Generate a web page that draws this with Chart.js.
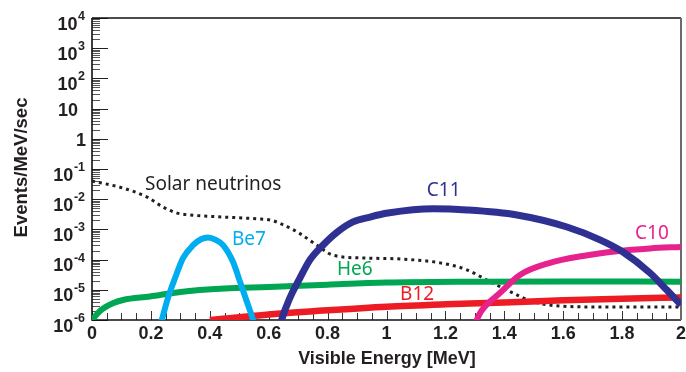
<!DOCTYPE html>
<html>
<head>
<meta charset="utf-8">
<script src="https://cdn.jsdelivr.net/npm/chart.js@4/dist/chart.umd.min.js"></script>
<style>
  html, body { margin: 0; padding: 0; background: #ffffff; }
  #c { display: block; }
</style>
</head>
<body>
<canvas id="c" width="686" height="372"></canvas>
<script>
// Visible energy (MeV) and event rates (events/MeV/sec) for each spectrum
const solarEnergy = [0, 0.105, 0.187, 0.241, 0.289, 0.333, 0.445, 0.56, 0.61, 0.65, 0.70, 0.764, 0.818, 0.934, 1.046, 1.182, 1.273, 1.341, 1.43, 1.497, 1.589, 1.725, 2.0];
const solarRate   = [0.040, 0.0234, 0.0117, 0.0055, 0.00347, 0.0030, 0.00257, 0.00224, 0.0020, 0.00141, 7.9e-4, 3.0e-4, 1.4e-4, 1.12e-4, 1.05e-4, 7.8e-5, 4.6e-5, 2.1e-5, 7.8e-6, 4.0e-6, 2.9e-6, 2.7e-6, 2.7e-6];

const be7Energy = [0.225, 0.237, 0.258, 0.282, 0.309, 0.343, 0.37, 0.394, 0.42, 0.445, 0.479, 0.503, 0.526, 0.547, 0.556];
const be7Rate   = [4e-7, 1e-6, 5.4e-6, 2.45e-5, 1.12e-4, 3.0e-4, 4.7e-4, 5.4e-4, 4.5e-4, 3.0e-4, 8.3e-5, 1.8e-5, 4.0e-6, 1e-6, 4.5e-7];

const c11Energy = [0.635, 0.644, 0.672, 0.706, 0.740, 0.784, 0.832, 0.886, 0.944, 1.005, 1.158, 1.273, 1.443, 1.613, 1.725, 1.803, 1.895, 1.952, 2.0];
const c11Rate   = [4e-7, 1e-6, 5.4e-6, 2.45e-5, 9.8e-5, 3.0e-4, 8.1e-4, 1.78e-3, 2.57e-3, 3.47e-3, 4.8e-3, 4.4e-3, 3.0e-3, 1.2e-3, 4.5e-4, 1.78e-4, 3.6e-5, 9.8e-6, 3.2e-6];

const c10Energy = [1.300, 1.307, 1.324, 1.385, 1.453, 1.555, 1.667, 1.783, 1.895, 2.0];
const c10Rate   = [5e-7, 1e-6, 2.1e-6, 7.8e-6, 3.1e-5, 7.8e-5, 1.32e-4, 1.9e-4, 2.35e-4, 2.63e-4];

const he6Energy = [0, 0.027, 0.071, 0.105, 0.197, 0.3, 0.45, 0.6, 0.8, 1.0, 1.3, 1.6, 2.0];
const he6Rate   = [1e-6, 2.0e-6, 3.6e-6, 4.6e-6, 6.0e-6, 8.5e-6, 1.1e-5, 1.23e-5, 1.48e-5, 1.74e-5, 1.86e-5, 1.9e-5, 1.86e-5];

const b12Energy = [0.4, 0.6, 0.8, 1.0, 1.2, 1.4, 1.6, 1.8, 2.0];
const b12Rate   = [1e-6, 1.51e-6, 2.09e-6, 2.75e-6, 3.3e-6, 3.8e-6, 4.47e-6, 5.1e-6, 5.6e-6];

// Axis ticks
const xTickValues = [0, 0.2, 0.4, 0.6, 0.8, 1, 1.2, 1.4, 1.6, 1.8, 2];
const xTickLabels = ['0', '0.2', '0.4', '0.6', '0.8', '1', '1.2', '1.4', '1.6', '1.8', '2'];
const yTickExponents = [4, 3, 2, 1, 0, -1, -2, -3, -4, -5, -6];

// Curve names, anchored in data coordinates (energy, rate)
const curveLabels = [
  { text: 'Solar neutrinos', x: 0.18,  y: 0.030,  color: '#231f20' },
  { text: 'Be7',             x: 0.475, y: 4.7e-4, color: '#00aeef' },
  { text: 'He6',             x: 0.832, y: 4.7e-5, color: '#00a651' },
  { text: 'C11',             x: 1.137, y: 0.0193, color: '#2e3192' },
  { text: 'C10',             x: 1.844, y: 7.2e-4, color: '#e6228f' },
  { text: 'B12',             x: 1.046, y: 7.1e-6, color: '#ed1c24' }
];

const toPoints = (xs, ys) => xs.map((x, i) => ({ x: x, y: ys[i] }));

const INK = '#231f20';
const TICK_FONT = 'bold 18px "Liberation Sans", Arial, sans-serif';
const SUP_FONT = 'bold 12.5px "Liberation Sans", Arial, sans-serif';

const axisDecor = {
  id: 'axisDecor',
  beforeDatasetsDraw(chart) {
    const ctx = chart.ctx;
    const area = chart.chartArea;
    const xs = chart.scales.x, ys = chart.scales.y;
    ctx.save();
    // inward tick marks on the energy axis
    ctx.strokeStyle = '#333333';
    ctx.lineWidth = 1;
    for (let i = 0; i <= 40; i++) {
      const px = Math.round(xs.getPixelForValue(i * 0.05)) + 0.5;
      const len = (i % 4 === 0) ? 9 : 7;
      ctx.beginPath();
      ctx.moveTo(px, area.bottom);
      ctx.lineTo(px, area.bottom - len);
      ctx.stroke();
    }
    // inward tick marks on the rate axis (decades and sub-decades)
    for (let k = -6; k <= 4; k++) {
      for (let m = 1; m <= 9; m++) {
        if (k === 4 && m > 1) break;
        const py = Math.round(ys.getPixelForValue(m * Math.pow(10, k))) + 0.5;
        const len = (m === 1) ? 16 : 8;
        ctx.strokeStyle = (m === 1) ? '#222222' : '#555555';
        ctx.beginPath();
        ctx.moveTo(area.left, py);
        ctx.lineTo(area.left + len, py);
        ctx.stroke();
      }
    }
    // frame
    ctx.strokeStyle = '#111111';
    ctx.lineWidth = 1.6;
    ctx.beginPath();
    ctx.moveTo(area.left, area.top);
    ctx.lineTo(area.left, area.bottom);
    ctx.lineTo(area.right, area.bottom);
    ctx.stroke();
    ctx.lineWidth = 1.4;
    ctx.beginPath();
    ctx.moveTo(area.left, area.top);
    ctx.lineTo(area.right, area.top);
    ctx.stroke();
    ctx.strokeStyle = '#6a6a6a';
    ctx.lineWidth = 2;
    ctx.beginPath();
    ctx.moveTo(area.right, area.top);
    ctx.lineTo(area.right, area.bottom);
    ctx.stroke();
    ctx.restore();
  },
  afterDatasetsDraw(chart) {
    const ctx = chart.ctx;
    const xs = chart.scales.x, ys = chart.scales.y;
    ctx.save();
    ctx.fillStyle = INK;

    // energy axis labels
    ctx.font = TICK_FONT;
    ctx.textAlign = 'center';
    ctx.textBaseline = 'alphabetic';
    xTickValues.forEach((v, i) => {
      ctx.fillText(xTickLabels[i], xs.getPixelForValue(v), 339);
    });

    // rate axis labels, powers of ten
    yTickExponents.forEach(e => {
      const py = ys.getPixelForValue(Math.pow(10, e));
      ctx.textAlign = 'left';
      if (e === 0) {
        ctx.font = TICK_FONT;
        const w = ctx.measureText('1').width;
        ctx.fillText('1', 86 - w, py + 7);
      } else if (e === 1) {
        ctx.font = TICK_FONT;
        const w = ctx.measureText('10').width;
        ctx.fillText('10', 78 - w, py + 7);
      } else {
        const sup = String(e);
        ctx.font = SUP_FONT;
        const sw = ctx.measureText(sup).width;
        ctx.font = TICK_FONT;
        const bw = ctx.measureText('10').width;
        const supX = 85 - sw;
        const baseX = supX - bw - 0.5;
        const base = Math.min(py + 11.5, 333);
        ctx.fillText('10', baseX, base);
        ctx.font = SUP_FONT;
        ctx.fillText(sup, supX, base - 9.5);
      }
    });

    // axis titles
    ctx.font = TICK_FONT;
    ctx.textAlign = 'center';
    ctx.fillText('Visible Energy [MeV]', 387, 364);
    ctx.save();
    ctx.font = 'bold 18.5px "Liberation Sans", Arial, sans-serif';
    ctx.translate(27, 167.5);
    ctx.rotate(-Math.PI / 2);
    ctx.fillText('Events/MeV/sec', 0, 0);
    ctx.restore();

    // curve names
    ctx.font = '19px "Noto Sans", "Liberation Sans", sans-serif';
    ctx.textAlign = 'left';
    ctx.textBaseline = 'middle';
    curveLabels.forEach(l => {
      ctx.fillStyle = l.color;
      ctx.fillText(l.text, xs.getPixelForValue(l.x), ys.getPixelForValue(l.y));
    });
    ctx.restore();
  }
};

const lineStyle = (color, width) => ({
  borderColor: color,
  backgroundColor: color,
  borderWidth: width,
  pointRadius: 0,
  fill: false,
  cubicInterpolationMode: 'monotone',
  borderCapStyle: 'butt',
  borderJoinStyle: 'round'
});

new Chart(document.getElementById('c').getContext('2d'), {
  type: 'line',
  data: {
    datasets: [
      Object.assign({ label: 'C11', data: toPoints(c11Energy, c11Rate) }, lineStyle('#2e3192', 7)),
      Object.assign({ label: 'C10', data: toPoints(c10Energy, c10Rate) }, lineStyle('#e6228f', 6)),
      Object.assign({ label: 'Be7', data: toPoints(be7Energy, be7Rate) }, lineStyle('#00aeef', 6)),
      Object.assign({ label: 'B12', data: toPoints(b12Energy, b12Rate) }, lineStyle('#ed1c24', 6.5)),
      Object.assign({ label: 'He6', data: toPoints(he6Energy, he6Rate) }, lineStyle('#00a651', 6)),
      Object.assign({ label: 'Solar neutrinos', data: toPoints(solarEnergy, solarRate), borderDash: [3, 4] }, lineStyle('#231f20', 3))
    ]
  },
  options: {
    responsive: false,
    animation: false,
    devicePixelRatio: 1,
    layout: { padding: { left: 0, right: 5, top: 18, bottom: 0 } },
    plugins: { legend: { display: false }, tooltip: { enabled: false } },
    scales: {
      x: {
        type: 'linear', min: 0, max: 2,
        grid: { display: false }, border: { display: false },
        ticks: { display: false },
        afterFit: s => { s.height = 52; }
      },
      y: {
        type: 'logarithmic', min: 1e-6, max: 1e4,
        grid: { display: false }, border: { display: false },
        ticks: { display: false },
        afterFit: s => { s.width = 92; }
      }
    }
  },
  plugins: [axisDecor]
});
</script>
</body>
</html>
